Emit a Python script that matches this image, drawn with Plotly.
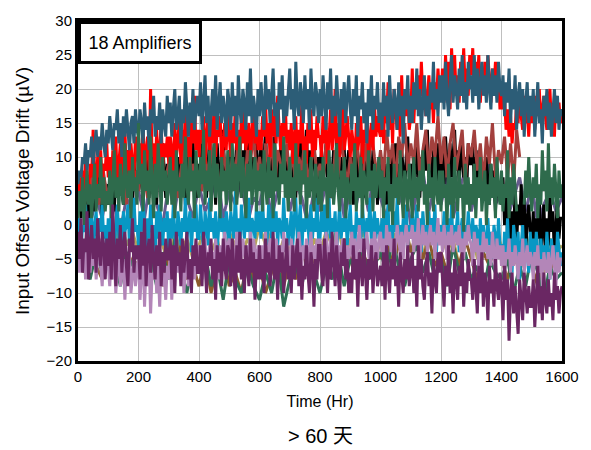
import plotly.graph_objects as go

# Time axes (hours) at the logging intervals used for each amplifier
HOURS_5 = list(range(0, 1601, 5))
HOURS_10_SHORT = list(range(0, 1461, 10))
HOURS_20 = list(range(0, 1601, 20))

# Input offset voltage drift (uV) per amplifier
blue = [6, 8, 7, 10, 9, 12, 8, 11, 10, 13, 9, 12, 14, 10, 13, 11, 15, 12, 10, 14,
        12, 16, 13, 11, 15, 14, 17, 12, 15, 10, 16, 13, 17, 14, 11, 15, 16, 12, 17, 14,
        13, 17, 15, 12, 18, 14, 16, 11, 17, 15, 19, 13, 16, 14, 18, 12, 17, 15, 13, 19,
        15, 18, 13, 17, 20, 14, 16, 19, 12, 17, 15, 21, 16, 13, 18, 15, 20, 14, 17, 19,
        16, 21, 14, 18, 22, 15, 19, 13, 17, 20, 16, 22, 14, 18, 21, 15, 19, 17, 13, 20,
        18, 14, 21, 16, 19, 13, 22, 17, 15, 20, 18, 14, 21, 16, 23, 15, 19, 17, 13, 20,
        16, 21, 18, 14, 22, 17, 20, 15, 19, 23, 16, 18, 13, 21, 17, 22, 15, 19, 16, 20,
        23, 17, 20, 14, 24, 18, 16, 21, 19, 15, 22, 17, 20, 14, 23, 18, 16, 21, 19, 15,
        20, 16, 22, 18, 14, 21, 17, 23, 15, 19, 16, 22, 18, 13, 20, 17, 21, 15, 19, 22,
        17, 14, 20, 16, 22, 13, 19, 17, 21, 15, 18, 12, 20, 16, 22, 14, 19, 17, 21, 15,
        18, 14, 21, 16, 19, 13, 22, 17, 15, 20, 18, 14, 21, 16, 19, 12, 20, 17, 22, 15,
        19, 15, 21, 17, 23, 16, 20, 14, 18, 22, 16, 19, 15, 21, 18, 24, 17, 20, 16, 22,
        18, 22, 17, 24, 19, 16, 21, 25, 18, 22, 20, 17, 23, 19, 25, 18, 21, 17, 24, 20,
        22, 18, 25, 19, 23, 17, 21, 24, 19, 22, 18, 25, 20, 17, 23, 19, 22, 18, 24, 20,
        19, 22, 16, 21, 18, 23, 15, 20, 17, 22, 14, 19, 21, 16, 20, 13, 18, 21, 15, 19,
        16, 20, 13, 18, 21, 15, 17, 12, 19, 16, 20, 14, 18, 13, 17, 20, 15, 19, 14, 17,
        16]

red = [4, 7, 3, 8, 5, 10, 6, 4, 9, 7, 14, 8, 5, 10, 7, 11, 6, 9, 8, 12,
       7, 10, 5, 11, 8, 13, 6, 9, 12, 7, 10, 14, 8, 11, 6, 12, 9, 7, 13, 10,
       8, 12, 9, 15, 7, 11, 13, 8, 20, 10, 12, 7, 14, 9, 11, 15, 8, 12, 10, 13,
       9, 13, 11, 8, 15, 10, 12, 16, 9, 14, 11, 17, 10, 13, 8, 15, 12, 19, 11, 14,
       10, 14, 12, 16, 9, 13, 17, 11, 15, 12, 18, 10, 14, 13, 16, 9, 12, 15, 11, 17,
       13, 10, 15, 12, 17, 11, 14, 9, 16, 12, 18, 11, 13, 15, 10, 14, 17, 12, 15, 11,
       14, 11, 16, 13, 18, 12, 15, 10, 17, 13, 16, 12, 19, 14, 11, 15, 13, 18, 12, 14,
       11, 15, 9, 13, 16, 10, 14, 12, 18, 11, 13, 9, 15, 12, 17, 10, 14, 11, 16, 13,
       13, 10, 16, 12, 15, 9, 14, 17, 11, 13, 20, 12, 15, 10, 14, 18, 11, 13, 16, 12,
       10, 14, 12, 8, 15, 11, 13, 16, 9, 14, 12, 17, 10, 13, 15, 11, 18, 13, 16, 14,
       13, 17, 12, 19, 15, 21, 14, 18, 12, 20, 16, 14, 19, 13, 22, 15, 18, 16, 20, 14,
       16, 23, 15, 20, 17, 22, 18, 24, 19, 21, 16, 19, 22, 17, 20, 15, 21, 18, 23, 19,
       19, 23, 18, 25, 20, 24, 17, 26, 21, 25, 19, 22, 18, 24, 21, 26, 20, 23, 19, 25,
       22, 26, 19, 24, 21, 25, 18, 23, 20, 24, 19, 25, 21, 18, 23, 20, 24, 19, 22, 17,
       21, 17, 19, 14, 17, 13, 16, 12, 15, 14, 18, 15, 20, 16, 14, 19, 15, 17, 13, 18,
       15, 18, 14, 19, 16, 20, 15, 17, 19, 16, 14, 18, 20, 15, 17, 13, 19, 16, 18, 15,
       17]

black = [2, 5, 1, 6, 3, 8, 4, 0, 6, 3, 7, 2, 5, 9, 4, 6, 1, 7, 5, 3,
         6, 3, 8, 5, 2, 9, 4, 7, 10, 5, 3, 8, 6, 11, 4, 7, 2, 9, 6, 8,
         5, 10, 7, 3, 9, 6, 12, 4, 8, 11, 6, 9, 3, 10, 7, 5, 12, 8, 4, 9,
         7, 11, 5, 9, 13, 6, 10, 4, 8, 12, 7, 3, 11, 9, 5, 10, 13, 6, 8, 4,
         9, 5, 12, 7, 10, 4, 8, 13, 6, 11, 9, 3, 12, 8, 5, 10, 14, 7, 9, 6,
         11, 7, 5, 10, 8, 13, 6, 9, 4, 11, 8, 12, 6, 14, 9, 5, 10, 7, 12, 8,
         8, 12, 6, 10, 14, 7, 9, 5, 11, 8, 13, 6, 10, 4, 12, 9, 7, 11, 5, 9,
         10, 6, 12, 8, 4, 11, 7, 13, 9, 6, 10, 14, 7, 11, 5, 9, 12, 8, 4, 10,
         8, 11, 5, 9, 12, 7, 10, 4, 8, 11, 6, 13, 9, 5, 10, 7, 12, 3, 9, 11,
         6, 10, 3, 8, 11, 5, 9, 7, 12, 4, 10, 6, 13, 8, 5, 11, 7, 9, 3, 10,
         7, 10, 5, 9, 3, 8, 11, 6, 10, 7, 12, 4, 9, 6, 11, 8, 5, 10, 13, 7,
         9, 5, 11, 7, 13, 8, 4, 10, 6, 12, 8, 14, 7, 10, 5, 11, 9, 6, 12, 8,
         8, 11, 6, 13, 9, 5, 12, 7, 10, 14, 8, 11, 6, 9, 13, 7, 10, 5, 12, 9,
         9, 12, 6, 10, 5, 11, 8, 4, 9, 6, 10, 7, 3, 9, 5, 8, 2, 7, 4, 6,
         3, 7, 0, 5, -2, 4, -4, 2, -1, 5, -3, 3, 0, 6, -2, 4, -5, 1, 3, -1,
         -3, 2, -5, 1, -2, 4, -6, 0, 3, -4, 1, -3, 5, -1, 2, -5, 0, 4, -2, 1,
         1]

green = [1, 5, 2, 7, 0, 4, 8, 3, 6, 1, 5, 9, 2, 6, 4, 10, 3, 7, 2, 5,
         3, 8, 1, 6, 11, 4, 7, 2, 9, 5, 3, 12, 6, 4, 8, 1, 10, 5, 7, 3,
         15, 6, 9, 2, 11, 5, 8, 3, 13, 6, 1, 9, 4, 12, 7, 2, 10, 5, 8, 3,
         6, 10, 3, 8, 1, 11, 5, 7, 2, 9, 4, 13, 6, 3, 10, 5, 8, 1, 11, 6,
         4, 10, 6, 14, 3, 8, 5, 11, 2, 7, 12, 4, 9, 6, 1, 10, 5, 8, 3, 11,
         7, 2, 12, 5, 9, 3, 8, 13, 4, 10, 6, 1, 9, 5, 11, 3, 7, 10, 2, 8,
         5, 9, 2, 11, 6, 3, 10, 4, 8, 1, 12, 5, 7, 3, 9, 6, 13, 4, 8, 2,
         10, 4, 7, 2, 12, 5, 9, 3, 8, 6, 11, 1, 7, 4, 10, 5, 2, 9, 6, 3,
         8, 2, 10, 5, 7, 1, 11, 4, 9, 3, 6, 12, 5, 2, 8, 4, 10, 1, 7, 5,
         3, 9, 5, 12, 2, 7, 4, 10, 1, 8, 6, 3, 11, 5, 8, 2, 9, 4, 7, 10,
         4, 8, 1, 7, 5, 10, 2, 6, 0, 9, 4, 7, 3, 11, 5, 1, 8, 6, 2, 9,
         5, 1, 10, 4, 7, 2, 8, 5, 11, 3, 6, 0, 9, 4, 7, 2, 10, 5, 3, 8,
         2, 8, 4, 6, 0, 9, 3, 7, 1, 10, 5, 2, 8, 4, 6, -1, 9, 3, 7, 2,
         6, 3, 9, 1, 7, 4, 10, 2, 5, 8, 0, 6, 3, 9, 4, 7, 1, 10, 5, 3,
         8, 2, 6, 4, 11, 1, 7, 3, 9, 5, 2, None, None, None, None, 3, 8, 4, 10, 5,
         2, 7, 4, 9, 1, 6, 3, 11, 5, 8, 2, 12, 4, 7, 3, 9, 5, 1, 8, 4,
         6]

cyan = [-2, 1, -4, 0, -1, 3, -3, 1, -2, 2, -5, 0, 2, -3, 1, -1, 3, -2, 0, -4,
        1, -3, 2, -1, -4, 0, 3, -2, 1, -5, 2, -1, 0, 3, -3, 1, -2, 4, -1, 0,
        -3, 2, -1, 4, 0, -4, 1, -2, 3, -1, 0, -5, 2, -2, 3, 0, -3, 1, -1, 2,
        -4, 1, -2, 3, -1, -5, 2, 0, -3, 1, -1, 4, -2, 0, 2, -4, 1, -1, 3, -2,
        -2, 3, -1, -4, 2, 0, -3, 4, -1, 1, -2, 2, -4, 0, 3, -1, 1, -3, 2, 0,
        -3, 2, 0, -2, 5, -1, 1, -4, 3, 0, -2, 2, -1, 4, -3, 1, 0, -2, 3, -1,
        2, -2, 4, -1, 1, -3, 3, 0, -2, 5, -1, 2, -3, 1, 0, -2, 4, -1, 1, -3,
        -1, 2, -3, 1, 4, -2, 0, 3, -4, 1, -1, 2, 0, -3, 3, -2, 1, -1, 4, -2,
        -2, 2, -1, 3, -3, 0, 4, -2, 1, -1, 2, -4, 0, 3, -2, 1, -1, 2, -3, 0,
        3, -2, 0, -4, 2, -1, 1, -3, 3, 0, -2, 1, -1, 4, -3, 0, 2, -2, 1, -1,
        -2, 1, -4, 2, -1, 3, -3, 0, -2, 2, -1, 4, -2, 0, -4, 1, -1, 3, -3, 0,
        -1, 2, -3, 0, 3, -2, 1, -4, 2, -1, 0, -3, 2, -2, 1, -1, 3, -4, 0, -2,
        0, -3, 2, -1, -4, 1, -2, 3, -3, 0, -1, 2, -4, -1, 1, -3, 0, -2, 2, -1,
        -2, 1, -4, 0, -1, -5, 1, -3, 0, -4, -2, 1, -3, -1, -5, 0, -2, -4, 1, -3,
        -3, -6, -1, -4, 1, -5, -2, -7, 0, -3, -5, -1, -8, -3, 0, -6, -2, -4, -7, -1,
        -5, -2, -6, -1, -4, -7, -2, -5, -3, -6, -1, -4, -8, -2, -5, -3, -7, -1, -4, -6,
        -4]

lavender = [-4, -7, -2, -6, -3, -8, -5, -2, -7, -4, -6, -3, -8, -5, -2, -6, -9, -4, -7, -5,
            -6, -9, -4, -8, -5, -10, -6, -3, -9, -7, -5, -11, -6, -8, -4, -10, -7, -5, -9, -6,
            -5, -11, -7, -4, -12, -6, -9, -5, -13, -7, -8, -4, -10, -6, -12, -5, -9, -7, -11, -6,
            -8, -4, -11, -6, -9, -3, -7, -5, -8, -4, -10, -6, -3, -9, -5, -7, -4, -8, -6, -3,
            -6, -3, -8, -4, -2, -7, -5, -3, -6, -4, -7, -2, -5, -8, -3, -6, -4, -1, -5, -3,
            -2, -5, -3, -7, -4, -1, -6, -3, -5, -2, -4, -7, -3, -5, -1, -6, -2, -4, -6, -3,
            -4, -7, -3, -5, -1, -6, -4, -2, -5, -3, -6, -2, -4, -7, -3, -5, -1, -4, -2, -6,
            -6, -2, -4, -7, -3, -5, -1, -4, -6, -3, -5, -2, -7, -4, -1, -5, -3, -6, -2, -4,
            -2, -5, -3, -6, -1, -4, -7, -2, -5, -3, -4, -1, -6, -3, -5, -2, -4, -7, -3, -5,
            -4, -1, -5, -2, -6, -3, 0, -4, -2, -5, -3, -1, -4, -6, -2, -5, -1, -3, -5, -2,
            -1, -4, -2, -5, 0, -3, -1, -4, -2, -6, -3, 0, -2, -4, -1, -5, -2, 0, -3, -1,
            -2, 0, -4, -1, -3, 1, -5, -2, 0, -3, -1, -4, -2, 0, -3, -1, -5, -2, 1, -3,
            -1, -4, 0, -2, -5, -1, -3, 0, -4, -2, -1, -3, 0, -4, -2, -5, -1, -3, 0, -2,
            -3, -6, -1, -4, -2, -7, -3, -5, -1, -4, -2, -5, -3, -6, -1, -4, -7, -2, -5, -3,
            -6, -3, -8, -4, -5, -2, -7, -4, -6, -3, -5, -8, -4, -6, -2, -7, -5, -3, -6, -4,
            -5, -8, -4, -6, -3, -7, -5, -9, -4, -6, -7, -4, -8, -5, -3, -6, -9, -4, -7, -5,
            -5]

plum = [-1, -5, 1, -7, -2, -4, 2, -8, -3, 0, -5, -2, -7, 1, -4, -6, -1, -3, -8, -2,
        -6, -1, -8, 3, -4, -9, -2, -5, 0, -7, -3, -1, -6, -9, -2, -4, 1, -7, -3, -5,
        -3, -8, -1, -6, 1, -9, -4, -2, -7, 0, -5, -8, -3, -6, -1, -9, -4, -7, -2, -5,
        -5, -2, -8, -3, -10, -1, -6, -4, -9, -2, -7, -4, -1, -8, -5, -10, -3, -6, -2, -7,
        -7, -3, -9, -1, -5, -10, -4, -6, -2, -8, -5, -11, -3, -7, -4, -9, -2, -6, -8, -3,
        -4, -9, -2, -6, -11, -3, -7, -1, -8, -5, -10, -3, -6, -9, -2, -7, -4, -11, -5, -8,
        -3, -8, -5, -10, -2, -7, -4, -9, -6, -1, -8, -5, -11, -3, -7, -4, -10, -6, -2, -8,
        -6, -10, -3, -8, -5, -2, -9, -4, -11, -6, -8, -3, -7, -10, -4, -6, -12, -5, -8, -3,
        -3, -7, -9, -2, -6, -10, -4, -8, -1, -5, -9, -3, -7, -11, -4, -6, -2, -8, -5, -10,
        -7, -10, -3, -8, -5, -12, -4, -6, -9, -2, -7, -11, -5, -8, -3, -10, -6, -4, -9, -7,
        -6, -9, -4, -11, -3, -7, -10, -5, -8, -2, -9, -6, -12, -4, -7, -10, -5, -8, -3, -9,
        -7, -4, -10, -6, -12, -3, -8, -5, -9, -11, -6, -4, -9, -7, -13, -5, -8, -10, -4, -7,
        -4, -8, -12, -6, -9, -3, -10, -7, -13, -5, -8, -11, -6, -9, -4, -12, -7, -10, -5, -8,
        -8, -11, -5, -9, -13, -6, -10, -4, -12, -7, -9, -14, -6, -10, -8, -12, -5, -9, -11, -7,
        -9, -14, -6, -11, -8, -17, -10, -7, -13, -9, -12, -16, -8, -11, -14, -7, -10, -13, -9, -12,
        -12, -8, -15, -10, -6, -13, -9, -14, -7, -11, -13, -8, -12, -10, -14, -7, -11, -9, -13, -10,
        -9]

brownred = [3, 6, 2, 7, 4, 8, 5, 3, 9, 6,
            4, 8, 6, 10, 5, 7, 3, 9, 6, 8,
            5, 9, 7, 4, 10, 6, 8, 11, 5, 7,
            9, 6, 10, 4, 8, 11, 7, 5, 9, 6,
            8, 5, 10, 7, 12, 6, 9, 4, 11, 8,
            6, 10, 7, 13, 8, 5, 11, 9, 14, 7,
            10, 6, 12, 8, 13, 5, 11, 9, 7, 12,
            7, 11, 5, 10, 8, 13, 6, 9, 12, 7,
            9, 6, 12, 8, 4, 11, 7, 13, 9, 6,
            10, 7, 13, 9, 5, 12, 8, 14, 10, 7,
            11, 7, 14, 9, 12, 6, 13, 10, 15, 8,
            12, 9, 15, 7, 11, 14, 8, 13, 10, 16,
            9, 13, 7, 12, 15, 8, 11, 14, 6, 12,
            10, 14, 8, 12, 6, 13, 9, 15, 7, 11,
            9, 13, 7, 12, 6, 14, 10]

brown = [-4, -7, -3, -6, -8, -4, -6, -2, -7, -5,
         -6, -3, -8, -5, -9, -4, -7, -3, -8, -6,
         -9, -5, -10, -6, -4, -9, -7, -10, -5, -8,
         -6, -10, -7, -4, -9, -5, -8, -3, -7, -5,
         -4, -7, -3, -6, -2, -5, -8, -4, -6, -3,
         -5, -2, -6, -3, 0, -4, -1, -5, -2, -6,
         -4, -7, -3, -6, -2, -5, -8, -4, -6, -3,
         -5, -8, -4, -7, -3, -6, -9, -5, -7, -4,
         -6]

green2 = [-6, -3, -8, -4, -7, -2, -5, -9, -4, -6,
          -3, -7, -5, -9, -4, -8, -2, -6, -10, -5,
          -7, -4, -9, -6, -11, -5, -8, -10, -6, -9,
          -11, -7, -10, -5, -12, -8, -6, -9, -4, -7,
          -10, -6, -8, -4, -9, -5, -7, -3, -8, -6,
          -4, -7, -2, -6, -9, -5, -3, -7, -4, -8,
          -5, -9, -3, -7, -4, -8, -6, -10, -5, -7,
          -8, -5, -10, -6, -9, -4, -7, -11, -6, -8,
          -7]

slate = [2, 5, 0, 4, 1, 6, 3, -1, 4, 2,
         5, 1, 7, 3, 0, 6, 2, 8, 4, 1,
         6, 2, 4, 8, 1, 5, 3, 7, 0, 4,
         3, 7, 1, 5, 9, 2, 6, 4, 0, 5,
         2, 6, 4, 8, 1, 5, 3, 7, 2, 9,
         4, 1, 7, 3, 6, 0, 5, 8, 2, 6,
         3, 7, 1, 5, 8, 2, 6, 4, 9, 3,
         5, 1, 4, 7, 2, 6, 0, 3, 5, 2,
         4]

olive = [-1, -4, 0, -3, -5, -2, -4, 1, -3, -1,
         -4, -2, -5, 0, -3, -6, -1, -4, -2, -5,
         -3, 0, -4, -2, -6, -1, -3, -5, -2, -4,
         0, -3, -1, -5, -2, -4, 1, -3, -6, -2,
         -4, -1, -3, 0, -5, -2, -4, -1, -3, -6,
         -2, -5, -1, -3, 1, -4, -2, -5, 0, -3,
         -1, -4, -2, -6, -3, 0, -5, -2, -4, -1,
         -3, -6, -2, -4, -1, -5, -3, -7, -2, -4,
         -3]

# Drawing order: first entry is at the back
SERIES = [
    (HOURS_20, olive, "#B5A35A", 3),
    (HOURS_20, slate, "#675B8E", 3),
    (HOURS_5, black, "#000000", 3),
    (HOURS_10_SHORT, brownred, "#A3403D", 3),
    (HOURS_5, red, "#FF0000", 3),
    (HOURS_5, blue, "#2C5D77", 3),
    (HOURS_20, brown, "#8B5A2B", 3),
    (HOURS_20, green2, "#2F6F55", 3),
    (HOURS_5, cyan, "#0897C4", 3),
    (HOURS_5, lavender, "#B386B8", 3),
    (HOURS_5, green, "#2E6B4C", 3),
    (HOURS_5, plum, "#6A2763", 3),
]

for xs, ys, _, _ in SERIES:
    assert len(xs) == len(ys), (len(xs), len(ys))

FONT = "Arial, Liberation Sans, sans-serif"

fig = go.Figure()
for xs, ys, color, w in SERIES:
    fig.add_trace(go.Scatter(x=xs, y=ys, mode="lines",
                             line=dict(color=color, width=w),
                             connectgaps=False, hoverinfo="skip"))

axis_common = dict(showgrid=True, gridcolor="#BFBFBF", gridwidth=1,
                   showline=True, linecolor="black", linewidth=3, mirror=True,
                   zeroline=False, ticks="", tickfont=dict(family=FONT, size=15, color="black"))

fig.update_layout(
    width=591, height=450,
    margin=dict(l=78, r=29, t=17, b=89),
    paper_bgcolor="white", plot_bgcolor="white",
    showlegend=False,
    xaxis=dict(range=[0, 1600], dtick=200, tick0=0,
               title=dict(text="Time (Hr)", font=dict(family=FONT, size=16, color="black"), standoff=12),
               **axis_common),
    yaxis=dict(range=[-20, 30], dtick=5, tick0=-20,
               title=dict(text="Input Offset Voltage Drift (µV)", font=dict(family=FONT, size=19, color="black"), standoff=12),
               **axis_common),
    annotations=[
        dict(text="18 Amplifiers", x=0, y=1, xref="paper", yref="paper",
             xanchor="left", yanchor="top", showarrow=False,
             font=dict(family=FONT, size=18, color="black"),
             width=112, height=31, align="center", valign="middle",
             bgcolor="white", bordercolor="black", borderwidth=3, borderpad=3),
        dict(text="> 60 天", x=0.5, y=-0.221, xref="paper", yref="paper",
             xanchor="center", yanchor="middle", showarrow=False,
             font=dict(family="Arial, Liberation Sans, Noto Sans CJK SC, sans-serif", size=20, color="black")),
    ],
)

fig.write_html("out.html")
